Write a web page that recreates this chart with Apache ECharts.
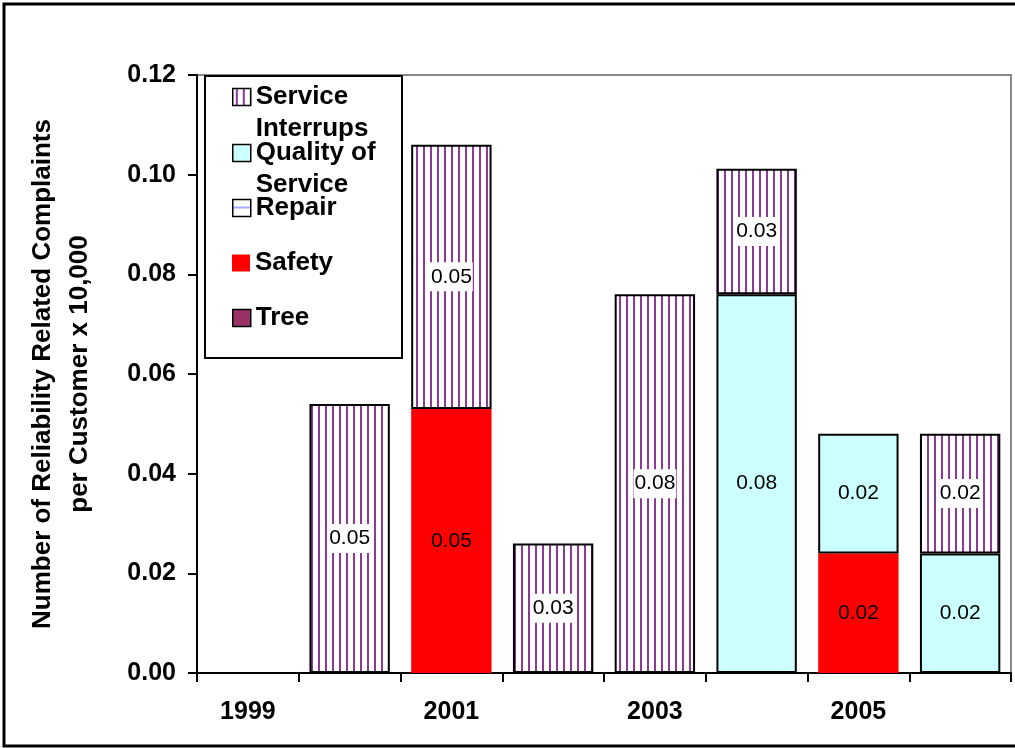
<!DOCTYPE html>
<html>
<head>
<meta charset="utf-8">
<script src="https://cdn.jsdelivr.net/npm/echarts@6/dist/echarts.min.js"></script>
<style>
  html, body { margin: 0; padding: 0; background: #fff; }
  #chart { width: 1015px; height: 748px; }
</style>
</head>
<body>
<div id="chart"></div>
<script>
// Reliability related complaints per customer x 10,000, by year
const years = ['1999', '2000', '2001', '2002', '2003', '2004', '2005', '2006'];
const serviceInterrups = [null, 0.054, 0.053, 0.026, 0.076, 0.0252, null, 0.024];
const qualityOfService = [null, null, null, null, null, 0.076, 0.024, 0.024];
const repair = [null, null, null, null, null, null, null, null];
const safety = [null, null, 0.053, null, null, null, 0.024, null];
const tree = [null, null, null, null, null, null, null, null];
const yTicks = [0, 0.02, 0.04, 0.06, 0.08, 0.10, 0.12];

const FONT = 'Liberation Sans, Arial, sans-serif';

// vertical purple stripes on white
function stripePattern() {
  const c = document.createElement('canvas');
  c.width = 7; c.height = 7;
  const g = c.getContext('2d');
  g.fillStyle = '#ffffff';
  g.fillRect(0, 0, 7, 7);
  g.fillStyle = '#8c3a96';
  g.fillRect(3, 0, 2, 7);
  return { image: c, repeat: 'repeat' };
}
// white with a lavender horizontal band
function bandPattern() {
  const c = document.createElement('canvas');
  c.width = 8; c.height = 17;
  const g = c.getContext('2d');
  g.fillStyle = '#ffffff';
  g.fillRect(0, 0, 8, 17);
  g.fillStyle = '#a9a9ff';
  g.fillRect(0, 7, 8, 2);
  return { image: c, repeat: 'repeat' };
}

const chart = echarts.init(document.getElementById('chart'), null, { renderer: 'canvas' });

const fmt = p => (p.value == null ? '' : Number(p.value).toFixed(2));
const barBorder = { borderColor: '#000', borderWidth: 2 };

function barSeries(name, data, itemStyle, labelExtra) {
  return {
    name: name,
    type: 'bar',
    stack: 'total',
    data: data,
    barCategoryGap: '21%',
    itemStyle: itemStyle,
    label: Object.assign({
      show: true,
      position: 'inside',
      formatter: fmt,
      color: '#000',
      fontFamily: FONT,
      fontSize: 21
    }, labelExtra || {}),
    emphasis: { disabled: true }
  };
}

const legendLines = {
  'Service Interrups': '\nService\nInterrups',
  'Quality of Service': '\nQuality of\nService'
};

function legendItem(name, top, bordered) {
  return {
    data: [name],
    left: 232,
    top: top,
    padding: 0,
    orient: 'vertical',
    icon: 'rect',
    itemWidth: 18,
    itemHeight: 17,
    selectedMode: false,
    z: 20,
    itemStyle: bordered ? { borderColor: '#000', borderWidth: 1.5 } : { borderWidth: 0 },
    formatter: n => legendLines[n] || n,
    textStyle: {
      fontFamily: FONT,
      fontWeight: 'bold',
      fontSize: 26,
      lineHeight: 32,
      color: '#000'
    }
  };
}

const option = {
  backgroundColor: '#fff',
  animation: false,
  grid: {
    left: 197, right: 4, top: 75, bottom: 75,
    show: true,
    borderColor: '#888',
    borderWidth: 2,
    backgroundColor: 'transparent'
  },
  graphic: [
    {
      type: 'rect',
      shape: { x: 4, y: 4, width: 1030, height: 742 },
      style: { fill: 'none', stroke: '#000', lineWidth: 3 },
      silent: true,
      z: 1
    },
    {
      type: 'rect',
      shape: { x: 205, y: 76, width: 197, height: 282 },
      style: { fill: '#fff', stroke: '#000', lineWidth: 2 },
      silent: true,
      z: 10
    }
  ],
  legend: [
    legendItem('Service Interrups', 49, true),
    legendItem('Quality of Service', 105, true),
    legendItem('Repair', 192, true),
    legendItem('Safety', 247, false),
    legendItem('Tree', 302, true)
  ],
  xAxis: {
    type: 'category',
    data: years,
    boundaryGap: true,
    axisLine: { show: true, lineStyle: { color: '#000', width: 2 } },
    axisTick: { show: true, interval: 0, length: 9, lineStyle: { color: '#000', width: 2 } },
    axisLabel: {
      interval: 1,
      margin: 27,
      color: '#000',
      fontFamily: FONT,
      fontWeight: 'bold',
      fontSize: 25
    },
    splitLine: { show: false }
  },
  yAxis: {
    type: 'value',
    min: yTicks[0],
    max: yTicks[yTicks.length - 1],
    interval: 0.02,
    name: 'Number of Reliability Related Complaints\nper Customer x 10,000',
    nameLocation: 'middle',
    nameGap: 99,
    nameTextStyle: {
      fontFamily: FONT,
      fontWeight: 'bold',
      fontSize: 26,
      lineHeight: 37,
      color: '#000'
    },
    axisLine: { show: true, lineStyle: { color: '#000', width: 2 } },
    axisTick: { show: true, inside: false, length: 9, lineStyle: { color: '#000', width: 2 } },
    axisLabel: {
      margin: 21,
      color: '#000',
      fontFamily: FONT,
      fontWeight: 'bold',
      fontSize: 25,
      formatter: v => v.toFixed(2)
    },
    splitLine: { show: false }
  },
  series: [
    barSeries('Tree', tree, Object.assign({ color: '#993366' }, barBorder)),
    barSeries('Safety', safety, { color: '#ff0000', borderWidth: 0 }),
    barSeries('Repair', repair, Object.assign({ color: bandPattern() }, barBorder)),
    barSeries('Quality of Service', qualityOfService, Object.assign({ color: '#ccffff' }, barBorder)),
    barSeries('Service Interrups', serviceInterrups, Object.assign({ color: stripePattern() }, barBorder),
      { backgroundColor: '#fff', padding: [4, 1] })
  ]
};

chart.setOption(option);
</script>
</body>
</html>
